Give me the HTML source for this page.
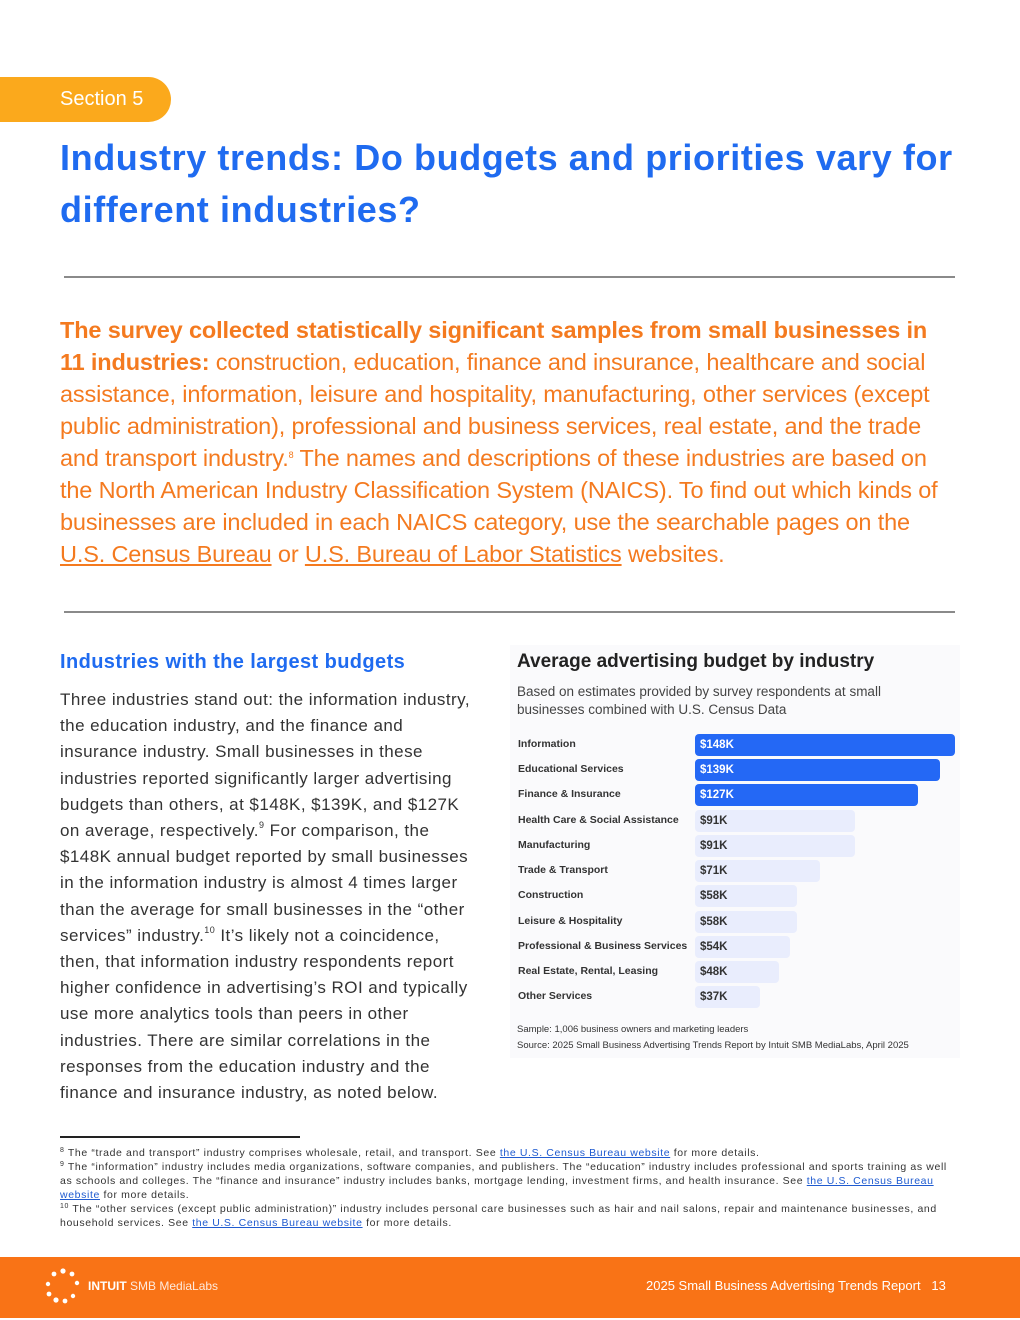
<!DOCTYPE html>
<html><head><meta charset="utf-8"><style>
*{margin:0;padding:0;box-sizing:border-box}
body{width:1020px;height:1320px;position:relative;background:#fff;font-family:"Liberation Sans","DejaVu Sans",sans-serif;overflow:hidden}
.a{position:absolute;white-space:nowrap}
sup{font-size:9px;line-height:0;position:relative;top:-8px;vertical-align:baseline}
.tag{left:0;top:77px;width:171px;height:45px;background:#fba91c;border-radius:0 23px 23px 0;color:#fff;font-size:20px;line-height:45px;padding-left:60px}
h1{position:absolute;left:60px;top:132px;color:#1f6bf0;font-size:36px;line-height:52px;font-weight:bold;letter-spacing:0.6px;white-space:nowrap}
.hr{position:absolute;left:64px;width:891px;height:2px;background:#8a8a8a}
.intro{position:absolute;left:60px;top:314px;color:#f47a1f;font-size:23.5px;line-height:32px;white-space:nowrap;letter-spacing:-0.15px}
.intro b{font-weight:bold}
.lh{left:60px;top:651px;color:#1f6bf0;font-size:20px;font-weight:bold;letter-spacing:0.4px}
.body{position:absolute;left:60px;top:687px;color:#333;font-size:17px;line-height:26.2px;white-space:nowrap;letter-spacing:0.45px}
.panel{position:absolute;left:510px;top:645px;width:450px;height:413px;background:#fafafc}
.ct{left:517px;top:651px;font-size:19px;font-weight:bold;color:#222}
.cs{left:517px;top:683px;font-size:13.5px;line-height:18px;color:#444}
.lab{position:absolute;left:518px;font-size:10.5px;font-weight:bold;color:#333}
.bar{position:absolute;left:695px;height:22px;border-radius:4px;font-size:11.5px;font-weight:bold;line-height:22px;padding-left:5px}
.dk{background:#2468f5;color:#fff}
.lt{background:#e9edfd;color:#333}
.note{left:517px;font-size:9.5px;color:#333}
.fn{position:absolute;left:60px;top:1146px;font-size:10.5px;line-height:14px;color:#333;white-space:nowrap;letter-spacing:0.62px}
.fn sup{font-size:7px;top:-4px}
.fn u{color:#1f5bd0}
.foot{position:absolute;left:0;top:1257px;width:1020px;height:61px;background:#f97316}
</style></head><body>
<div class="a tag">Section 5</div>
<h1>Industry trends: Do budgets and priorities vary for<br>different industries?</h1>
<div class="hr" style="top:276px"></div>
<div class="intro"><b>The survey collected statistically significant samples from small businesses in<br>11 industries:</b> construction, education, finance and insurance, healthcare and social<br>assistance, information, leisure and hospitality, manufacturing, other services (except<br>public administration), professional and business services, real estate, and the trade<br>and transport industry.<sup>8</sup> The names and descriptions of these industries are based on<br>the North American Industry Classification System (NAICS). To find out which kinds of<br>businesses are included in each NAICS category, use the searchable pages on the<br><u>U.S. Census Bureau</u> or <u>U.S. Bureau of Labor Statistics</u> websites.</div>
<div class="hr" style="top:611px"></div>
<div class="a lh">Industries with the largest budgets</div>
<div class="body">Three industries stand out: the information industry,<br>the education industry, and the finance and<br>insurance industry. Small businesses in these<br>industries reported significantly larger advertising<br>budgets than others, at $148K, $139K, and $127K<br>on average, respectively.<sup>9</sup> For comparison, the<br>$148K annual budget reported by small businesses<br>in the information industry is almost 4 times larger<br>than the average for small businesses in the “other<br>services” industry.<sup>10</sup> It’s likely not a coincidence,<br>then, that information industry respondents report<br>higher confidence in advertising’s ROI and typically<br>use more analytics tools than peers in other<br>industries. There are similar correlations in the<br>responses from the education industry and the<br>finance and insurance industry, as noted below.</div>
<div class="panel"></div>
<div class="a ct">Average advertising budget by industry</div>
<div class="a cs">Based on estimates provided by survey respondents at small<br>businesses combined with U.S. Census Data</div>

<div class="lab" style="top:738px">Information</div><div class="bar dk" style="top:734px;width:260px">$148K</div>
<div class="lab" style="top:763px">Educational Services</div><div class="bar dk" style="top:759px;width:245px">$139K</div>
<div class="lab" style="top:788px">Finance &amp; Insurance</div><div class="bar dk" style="top:784px;width:223px">$127K</div>
<div class="lab" style="top:814px">Health Care &amp; Social Assistance</div><div class="bar lt" style="top:810px;width:160px">$91K</div>
<div class="lab" style="top:839px">Manufacturing</div><div class="bar lt" style="top:835px;width:160px">$91K</div>
<div class="lab" style="top:864px">Trade &amp; Transport</div><div class="bar lt" style="top:860px;width:125px">$71K</div>
<div class="lab" style="top:889px">Construction</div><div class="bar lt" style="top:885px;width:102px">$58K</div>
<div class="lab" style="top:915px">Leisure &amp; Hospitality</div><div class="bar lt" style="top:911px;width:102px">$58K</div>
<div class="lab" style="top:940px">Professional &amp; Business Services</div><div class="bar lt" style="top:936px;width:95px">$54K</div>
<div class="lab" style="top:965px">Real Estate, Rental, Leasing</div><div class="bar lt" style="top:961px;width:84px">$48K</div>
<div class="lab" style="top:990px">Other Services</div><div class="bar lt" style="top:986px;width:65px">$37K</div>
<div class="a note" style="top:1024px">Sample: 1,006 business owners and marketing leaders</div>
<div class="a note" style="top:1040px">Source: 2025 Small Business Advertising Trends Report by Intuit SMB MediaLabs, April 2025</div>

<div style="position:absolute;left:60px;top:1136px;width:240px;height:2px;background:#222"></div>
<div class="fn"><sup>8</sup> The “trade and transport” industry comprises wholesale, retail, and transport. See <u>the U.S. Census Bureau website</u> for more details.<br><sup>9</sup> The “information” industry includes media organizations, software companies, and publishers. The “education” industry includes professional and sports training as well<br>as schools and colleges. The “finance and insurance” industry includes banks, mortgage lending, investment firms, and health insurance. See <u>the U.S. Census Bureau</u><br><u>website</u> for more details.<br><sup>10</sup> The “other services (except public administration)” industry includes personal care businesses such as hair and nail salons, repair and maintenance businesses, and<br>household services. See <u>the U.S. Census Bureau website</u> for more details.</div>

<div class="foot">
<svg style="position:absolute;left:44px;top:11px" width="38" height="36" viewBox="0 0 38 36">
<g fill="#fff"><circle cx="19" cy="3" r="2.6"/><circle cx="28" cy="6" r="2.4"/><circle cx="10" cy="6" r="2.4"/><circle cx="33" cy="15" r="2.2"/><circle cx="4" cy="16" r="2.2"/><circle cx="5" cy="26" r="2.4"/><circle cx="12" cy="32" r="2.6"/><circle cx="21" cy="33" r="2.4"/><circle cx="29" cy="28" r="2.2"/></g></svg>
<div class="a" style="left:88px;top:22px;color:#fff;font-size:12px"><b>INTUIT</b> <span style="opacity:.85">SMB MediaLabs</span></div>
<div class="a" style="left:646px;top:21px;color:#fff;font-size:13px">2025 Small Business Advertising Trends Report &nbsp;&nbsp;13</div>
</div>
</body></html>
